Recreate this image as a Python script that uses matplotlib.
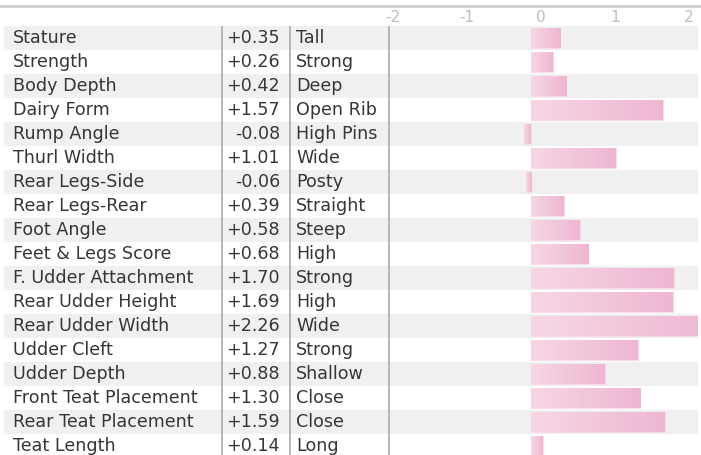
import matplotlib
matplotlib.use("Agg")
import matplotlib.pyplot as plt
import numpy as np
from matplotlib.transforms import blended_transform_factory
from matplotlib.colors import LinearSegmentedColormap
from matplotlib.lines import Line2D

traits = ["Stature", "Strength", "Body Depth", "Dairy Form", "Rump Angle", "Thurl Width",
          "Rear Legs-Side", "Rear Legs-Rear", "Foot Angle", "Feet & Legs Score",
          "F. Udder Attachment", "Rear Udder Height", "Rear Udder Width", "Udder Cleft",
          "Udder Depth", "Front Teat Placement", "Rear Teat Placement", "Teat Length"]
values = [0.35, 0.26, 0.42, 1.57, -0.08, 1.01, -0.06, 0.39, 0.58, 0.68,
          1.70, 1.69, 2.26, 1.27, 0.88, 1.30, 1.59, 0.14]
descriptors = ["Tall", "Strong", "Deep", "Open Rib", "High Pins", "Wide", "Posty", "Straight",
               "Steep", "High", "Strong", "High", "Wide", "Strong", "Shallow", "Close",
               "Close", "Long"]
axis_ticks = [-2, -1, 0, 1, 2]

W, H = 701, 455
fig = plt.figure(figsize=(W / 100, H / 100), dpi=100)
plt.rcParams['font.family'] = ['DejaVu Sans']

top_px, row_h = 26, 24
n = len(traits)
bottom_px = top_px + row_h * n
ax_right = 698
ax = fig.add_axes([0, (H - bottom_px) / H, ax_right / W, (bottom_px - top_px) / H])
zero_px, px_per_unit = 531, 84
ax.axis('off')

# stripes
for i in range(n):
    if i % 2 == 0:
        ax.axhspan(i - 0.5, i + 0.5, xmin=4 / ax_right, xmax=1, color='#f0f0f0', lw=0, zorder=0)

# gradient bars
cmap = LinearSegmentedColormap.from_list('pk', ['#f6d7e5', '#efb6d1'])
grad = np.linspace(0, 1, 256).reshape(1, -1)
bars = ax.barh(range(n), values, height=0.82, color='#f2c6da', edgecolor='#f7dbe8',
               linewidth=0.8, zorder=2)
for b, v in zip(bars, values):
    x0, y0 = b.get_x(), b.get_y()
    w, h = b.get_width(), b.get_height()
    g = grad if v >= 0 else grad[:, ::-1]
    im = ax.imshow(g, extent=[x0, x0 + w, y0 + h, y0], aspect='auto', cmap=cmap,
                   zorder=3, interpolation='bilinear')
    im.set_clip_path(b)
    im.set_clip_box(ax.bbox)
    b.set_clip_box(ax.bbox)
ax.set_xlim(-zero_px / px_per_unit, (ax_right - zero_px) / px_per_unit)
ax.set_ylim(n - 0.5, -0.5)

# table text
tr = blended_transform_factory(ax.transAxes, ax.transData)
fx = lambda px: px / ax_right
fs = 12.6
tc = '#363636'
for i, (t, v, d) in enumerate(zip(traits, values, descriptors)):
    ax.text(fx(13), i, t, transform=tr, ha='left', va='center', fontsize=fs, color=tc)
    ax.text(fx(280), i, f"{v:+.2f}", transform=tr, ha='right', va='center', fontsize=fs, color=tc)
    ax.text(fx(296), i, d, transform=tr, ha='left', va='center', fontsize=fs, color=tc)

# vertical separators
for px in (222, 290, 389):
    ax.add_line(Line2D([fx(px), fx(px)], [-0.45, n - 0.5], transform=tr,
                       color='#b0b0b0', lw=1.3, zorder=4, clip_on=False))

# top border line
fig.add_artist(Line2D([1 / W, 700 / W], [1 - 5.5 / H, 1 - 5.5 / H], color='#cccccc', lw=2))

# top scale labels
sx0, sx1 = 392.6, 689
tax = fig.add_axes([sx0 / W, 1 - 22 / H, (sx1 - sx0) / W, 10 / H])
tax.set_xlim(axis_ticks[0], axis_ticks[-1])
tax.axis('off')
for t in axis_ticks:
    tax.text(t, 0.5, f"{t}", ha='center', va='center', fontsize=11, color='#bdbdbd')

fig.savefig('out.png', dpi=100)
